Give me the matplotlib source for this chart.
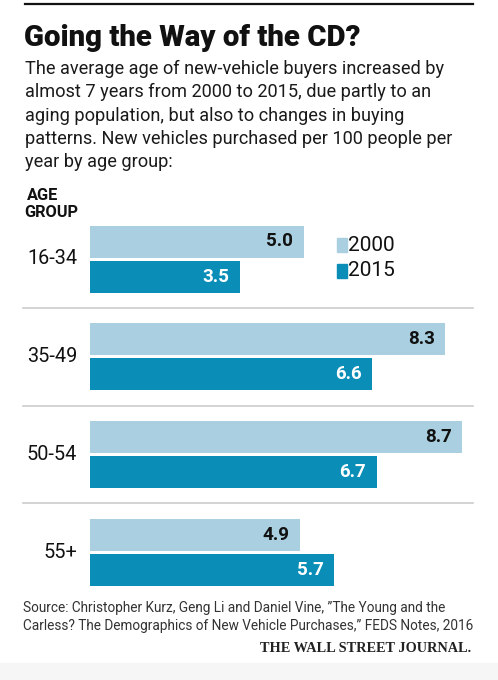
import matplotlib.pyplot as plt
from matplotlib.patches import Rectangle
import matplotlib.transforms as mtransforms

groups = ["16-34", "35-49", "50-54", "55+"]
vals_2000 = [5.0, 8.3, 8.7, 4.9]
vals_2015 = [3.5, 6.6, 6.7, 5.7]
years = ["2000", "2015"]

light = "#a9cfe1"
dark = "#0a8eb8"
txt = "#111111"
font = "Roboto"

W, H = 498, 680
fig = plt.figure(figsize=(W / 100, H / 100), dpi=100)
fig.patch.set_facecolor("white")

def fx(px):
    return px / W

def fy(py):
    return 1 - py / H

# top rule
fig.add_artist(plt.Line2D([fx(25), fx(473)], [fy(4), fy(4)], color="#111111", lw=1.6))

fig.text(fx(24), fy(46), "Going the Way of the CD?", fontsize=21.2, fontweight="heavy",
         family=font, color=txt, va="baseline")

sub = ["The average age of new-vehicle buyers increased by",
       "almost 7 years from 2000 to 2015, due partly to an",
       "aging population, but also to changes in buying",
       "patterns. New vehicles purchased per 100 people per",
       "year by age group:"]
for i, line in enumerate(sub):
    fig.text(fx(25), fy(74 + 23.3 * i), line, fontsize=13.1, family=font, color="#1a1a1a",
             va="baseline")

fig.text(fx(27), fy(200), "AGE", fontsize=11.8, fontweight="bold", family=font, color=txt,
         va="baseline")
fig.text(fx(24), fy(217), "GROUP", fontsize=11.8, fontweight="bold", family=font, color=txt,
         va="baseline")

# bar axes: x 90..473 px, 42.8 px per unit; group spacing 97.7 px
x0, x1 = 90, 473
y_top, y_bot = 210, 600
ax = fig.add_axes([fx(x0), fy(y_bot), (x1 - x0) / W, (y_bot - y_top) / H])
ax.set_xlim(0, (x1 - x0) / 42.8)
step = 97.7
ax.set_ylim((y_bot - 259) / step, (y_top - 259) / step)
ax.axis("off")

pos = list(range(len(groups)))
h = 32 / step
off = 17.5 / step
ax.barh([p - off for p in pos], vals_2000, height=h, color=light, label=years[0])
ax.barh([p + off for p in pos], vals_2015, height=h, color=dark, label=years[1])

pad = 0.25
for p, v in zip(pos, vals_2000):
    ax.text(v - pad, p - off, f"{v:.1f}", ha="right", va="center", fontsize=13.5,
            fontweight="bold", family=font, color=txt)
for p, v in zip(pos, vals_2015):
    ax.text(v - pad, p + off, f"{v:.1f}", ha="right", va="center", fontsize=13.5,
            fontweight="bold", family=font, color="white")

# group labels and separators
trans = mtransforms.blended_transform_factory(fig.transFigure, ax.transData)
for p, g in zip(pos, groups):
    ax.text(fx(77), p, g, transform=trans, ha="right", va="center", fontsize=14.3,
            family=font, color=txt)
for p in pos[:-1]:
    ax.plot([fx(23), fx(473)], [p + 0.5, p + 0.5], transform=trans, color="#cccccc",
            lw=1.2, clip_on=False)

# legend
for i, (yr, c) in enumerate(zip(years, [light, dark])):
    yc = 245 + 26 * i
    fig.add_artist(Rectangle((fx(337), fy(yc + 7)), 10 / W, 14 / H, color=c,
                             transform=fig.transFigure))
    fig.text(fx(348), fy(yc), yr, fontsize=15, family=font, color=txt, va="center")

fig.text(fx(23), fy(612), "Source: Christopher Kurz, Geng Li and Daniel Vine, \u201dThe Young and the",
         fontsize=9.85, family=font, color="#333333", va="baseline")
fig.text(fx(23), fy(630), "Carless? The Demographics of New Vehicle Purchases,\u201d FEDS Notes, 2016",
         fontsize=9.85, family=font, color="#333333", va="baseline")
fig.text(fx(471), fy(652), "THE WALL STREET JOURNAL.", fontsize=10.3, fontweight="bold",
         family="Liberation Serif", color="#222222", ha="right", va="baseline")

# pale footer band
fig.add_artist(Rectangle((0, 0), 1, fy(663), color="#f6f6f6", transform=fig.transFigure,
                         zorder=-1))

fig.savefig("out.png", dpi=100)
